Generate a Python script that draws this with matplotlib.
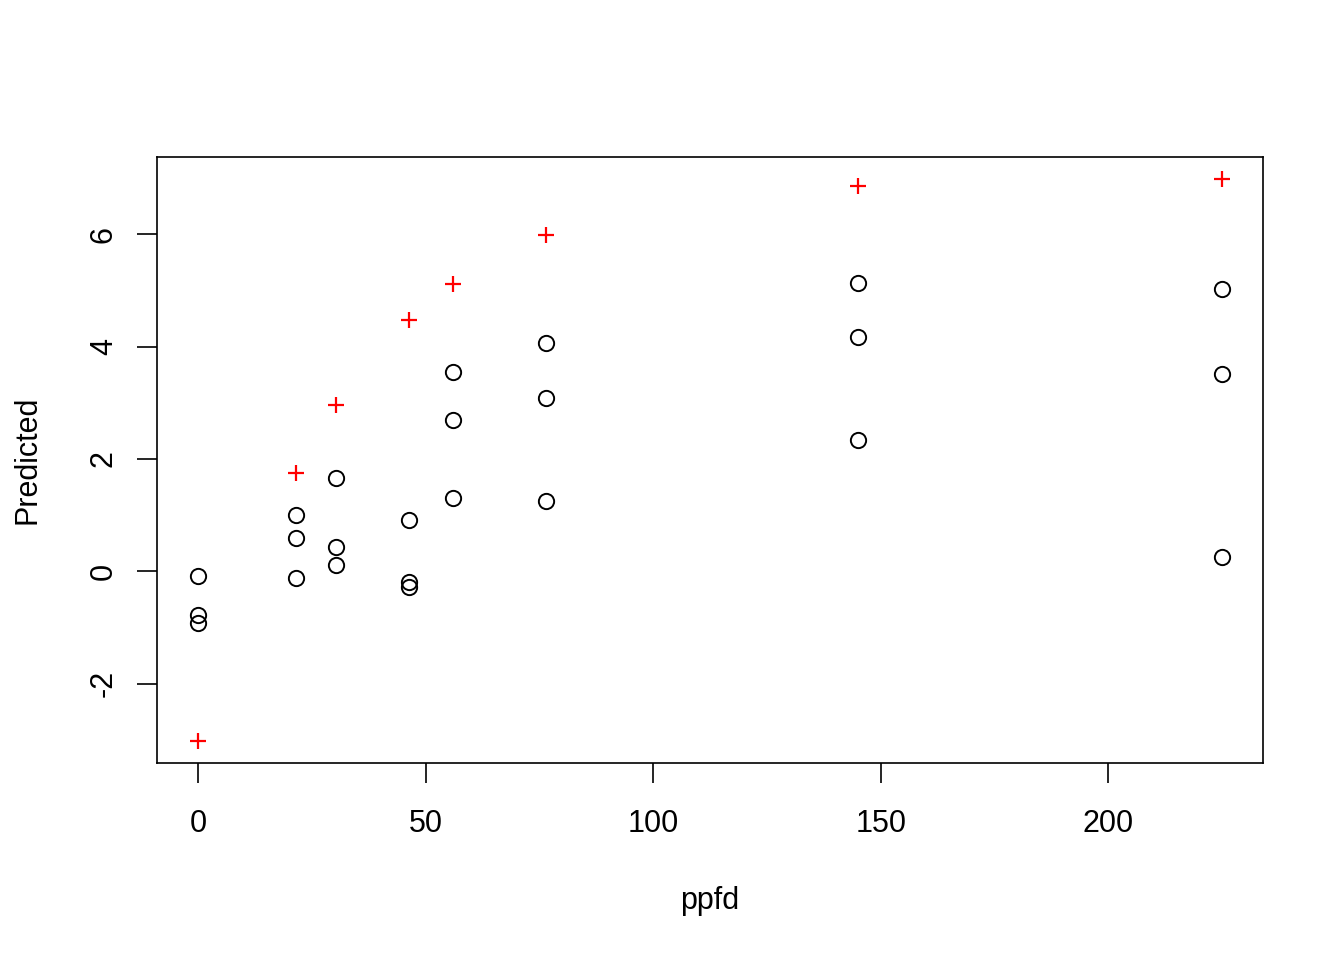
import matplotlib
matplotlib.use("Agg")
import matplotlib.pyplot as plt

plt.rcParams['font.family'] = ['Liberation Sans', 'DejaVu Sans']

ppfd_levels = [0, 21.5, 30.3, 46.3, 56.0, 76.5, 145.0, 225.0]
red_pred = [-3.01, 1.76, 2.97, 4.48, 5.11, 5.98, 6.85, 6.975]

circ_x = [0, 0, 0, 21.5, 21.5, 21.5, 30.3, 30.3, 30.3, 46.3, 46.3, 46.3,
          56.0, 56.0, 56.0, 76.5, 76.5, 76.5, 145.0, 145.0, 145.0, 225.0, 225.0, 225.0]
circ_y = [-0.09, -0.77, -0.91, 1.00, 0.59, -0.11, 1.67, 0.44, 0.12, 0.91, -0.18, -0.28,
          3.54, 2.69, 1.30, 4.07, 3.08, 1.26, 5.14, 4.18, 2.33, 5.02, 3.51, 0.25]

x_ticks = [0, 50, 100, 150, 200]
y_ticks = [-2, 0, 2, 4, 6]

FS = 22

fig = plt.figure(figsize=(13.44, 9.6), dpi=100)
ax = fig.add_axes([157/1344, 1-763/960, (1263-157)/1344, (763-157)/960])

ax.plot(circ_x, circ_y, linestyle='none', marker='o', markersize=11, markerfacecolor='none',
        markeredgecolor='black', markeredgewidth=1.4)
ax.plot(ppfd_levels, red_pred, linestyle='none', marker='+', markersize=12,
        color='red', markeredgewidth=1.6)

xmin, xmax = 0, 225
xr = xmax - xmin
ax.set_xlim(xmin - 0.04*xr, xmax + 0.04*xr)
ymin, ymax = min(min(circ_y), min(red_pred)), max(max(circ_y), max(red_pred))
yr = ymax - ymin
ax.set_ylim(ymin - 0.04*yr, ymax + 0.04*yr)

ax.set_xticks(x_ticks)
ax.set_xticklabels([str(t) for t in x_ticks])
ax.set_yticks(y_ticks)
ax.set_yticklabels([str(t) for t in y_ticks], rotation=90, va='center')
ax.tick_params(axis='both', direction='out', length=14.4, width=1.2, labelsize=FS)
ax.tick_params(axis='x', pad=19)
ax.tick_params(axis='y', pad=13)
for s in ax.spines.values():
    s.set_linewidth(1.2)

fig.text(710/1344, 1-901/960, 'ppfd', fontsize=FS, ha='center', va='center')
fig.text(28/1344, 1-460/960, 'Predicted', fontsize=FS, ha='center', va='center', rotation=90)

fig.savefig('out.png', dpi=100, facecolor='white')
